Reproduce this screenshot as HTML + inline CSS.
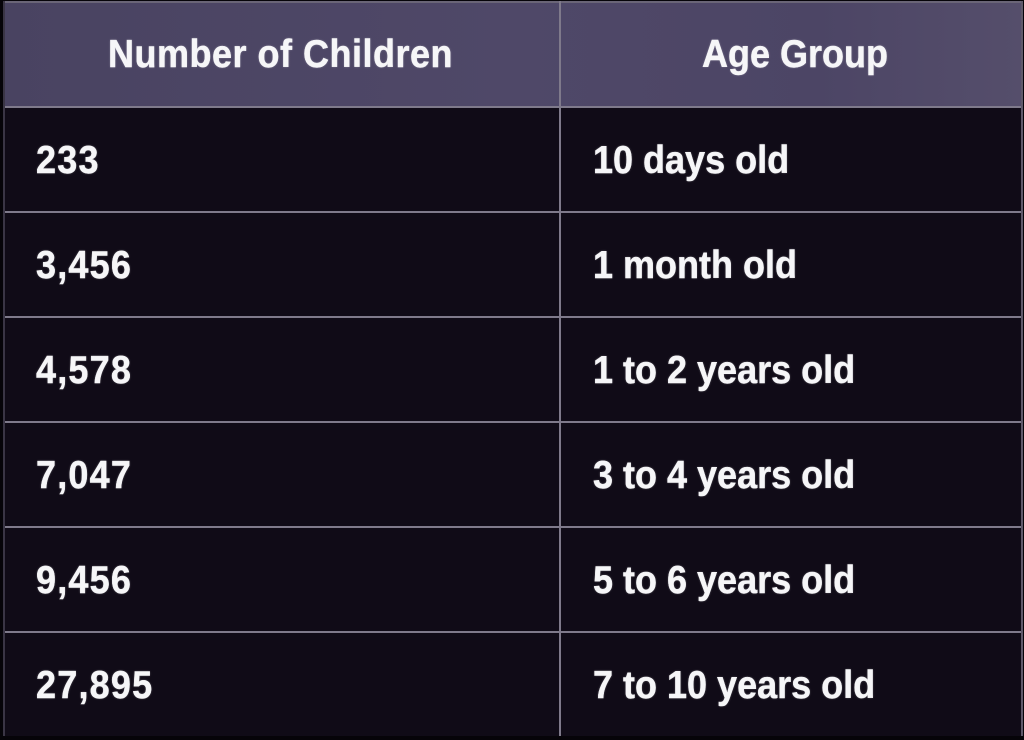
<!DOCTYPE html>
<html>
<head>
<meta charset="utf-8">
<style>
  html,body{margin:0;padding:0;}
  body{width:1024px;height:740px;background:#060409;position:relative;overflow:hidden;font-family:"Liberation Sans",sans-serif;}
  .table{position:absolute;left:4px;top:1px;width:1018px;height:735px;background:#100b17;}
  .header{position:absolute;left:4px;top:2px;width:1018px;height:105px;background:linear-gradient(90deg,#494361 0%,#4f4868 50%,#4c4565 80%,#554e6b 100%);}
  .hl{position:absolute;left:4px;width:1018px;height:2px;background:#7f7a8b;}
  .vl{position:absolute;top:1px;width:2px;height:735px;background:#7f7a8b;}
  .t{position:absolute;color:#f6f6f8;font-weight:bold;font-size:36px;line-height:40px;white-space:nowrap;text-shadow:0 0 2px rgba(255,255,255,0.35);-webkit-text-stroke:0.4px #f6f6f8;transform:scaleY(1.07);transform-origin:0 50%;}
  .h{top:34px;}
  .num{left:36px;letter-spacing:1.2px;}
  .age{left:593px;}
</style>
</head>
<body>
  <div class="table"></div>
  <div class="header"></div>

  <div class="hl" style="top:1px;background:#6a6577;"></div>
  <div class="hl" style="top:106px;"></div>
  <div class="hl" style="top:211px;"></div>
  <div class="hl" style="top:316px;"></div>
  <div class="hl" style="top:421px;"></div>
  <div class="hl" style="top:526px;"></div>
  <div class="hl" style="top:631px;"></div>

  <div class="vl" style="left:3px;width:2px;background:#3a3545;"></div>
  <div class="vl" style="left:559px;"></div>
  <div class="vl" style="left:1021px;width:2px;background:#5f5a6b;"></div>

  <div class="t h" style="left:108px;letter-spacing:0.5px;">Number of Children</div>
  <div class="t h" style="left:702px;">Age Group</div>

  <div class="t num" style="top:140px;">233</div>
  <div class="t age" style="top:140px;">10 days old</div>

  <div class="t num" style="top:245px;">3,456</div>
  <div class="t age" style="top:245px;">1 month old</div>

  <div class="t num" style="top:350px;">4,578</div>
  <div class="t age" style="top:350px;">1 to 2 years old</div>

  <div class="t num" style="top:455px;">7,047</div>
  <div class="t age" style="top:455px;">3 to 4 years old</div>

  <div class="t num" style="top:560px;">9,456</div>
  <div class="t age" style="top:560px;">5 to 6 years old</div>

  <div class="t num" style="top:665px;">27,895</div>
  <div class="t age" style="top:665px;">7 to 10 years old</div>
</body>
</html>
